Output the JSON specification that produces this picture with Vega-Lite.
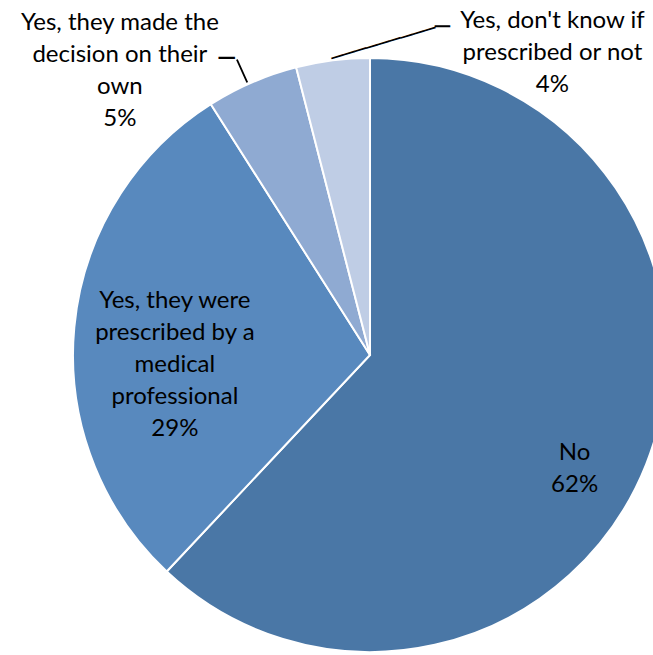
{
  "$schema": "https://vega.github.io/schema/vega-lite/v6.json",
  "width": 740,
  "height": 710,
  "padding": 0,
  "autosize": {"type": "none"},
  "background": "white",
  "config": {"view": {"stroke": null}},
  "data": {
    "values": [
      {"idx": 1, "category": "No", "value": 62, "label": "No\n62%"},
      {"idx": 2, "category": "Yes, they were prescribed by a medical professional", "value": 29, "label": "Yes, they were\nprescribed by a\nmedical\nprofessional\n29%"},
      {"idx": 3, "category": "Yes, they made the decision on their own", "value": 5, "label": "Yes, they made the\ndecision on their\nown\n5%"},
      {"idx": 4, "category": "Yes, don't know if prescribed or not", "value": 4, "label": "Yes, don't know if\nprescribed or not\n4%"}
    ]
  },
  "encoding": {
    "theta": {"field": "value", "type": "quantitative", "stack": true},
    "order": {"field": "idx", "type": "quantitative"}
  },
  "layer": [
    {
      "mark": {"type": "arc", "outerRadius": 297, "stroke": "white", "strokeWidth": 2},
      "encoding": {
        "color": {
          "field": "category",
          "type": "nominal",
          "sort": null,
          "scale": {
            "domain": ["No", "Yes, they were prescribed by a medical professional", "Yes, they made the decision on their own", "Yes, don't know if prescribed or not"],
            "range": ["#4A77A6", "#5889BE", "#8FAAD2", "#BFCDE5"]
          },
          "legend": null
        }
      }
    },
    {
      "transform": [{"filter": "datum.idx == 3"}],
      "mark": {"type": "arc", "theta": 5.86, "theta2": 5.86, "radius": 324, "radius2": 299, "fill": null, "stroke": "black", "strokeWidth": 1.8},
      "encoding": {"theta": null, "order": null}
    },
    {
      "mark": {"type": "text", "radius": 300, "dx": -24, "dy": -21, "font": "DejaVu Sans", "fontSize": 26.5, "color": "black", "align": "center", "baseline": "middle"},
      "encoding": {"text": {"condition": {"test": "datum.idx == 3", "value": "─"}, "value": ""}}
    },
    {
      "mark": {"type": "text", "radius": 300, "dx": 53, "dy": 1.5, "angle": -16.5, "font": "DejaVu Sans", "fontSize": 20, "color": "black", "align": "center", "baseline": "middle"},
      "encoding": {"text": {"condition": {"test": "datum.idx == 4", "value": "─────────"}, "value": ""}}
    },
    {
      "mark": {"type": "text", "radius": 300, "dx": 110, "dy": -30, "font": "DejaVu Sans", "fontSize": 25, "color": "black", "align": "center", "baseline": "middle"},
      "encoding": {"text": {"condition": {"test": "datum.idx == 4", "value": "─"}, "value": ""}}
    },
    {
      "mark": {"type": "text", "radius": 234, "dx": -13, "dy": 12, "font": "Lato", "fontSize": 24, "lineHeight": 32, "color": "black", "align": "center", "baseline": "middle", "lineBreak": "\n"},
      "encoding": {"text": {"condition": {"test": "datum.idx == 1", "field": "label"}, "value": ""}}
    },
    {
      "mark": {"type": "text", "radius": 196, "dx": 0, "dy": -36, "font": "Lato", "fontSize": 24, "lineHeight": 32, "color": "black", "align": "center", "baseline": "middle", "lineBreak": "\n"},
      "encoding": {"text": {"condition": {"test": "datum.idx == 2", "field": "label"}, "value": ""}}
    },
    {
      "mark": {"type": "text", "radius": 300, "dx": -131, "dy": -57, "font": "Lato", "fontSize": 24, "lineHeight": 32, "color": "black", "align": "center", "baseline": "middle", "lineBreak": "\n"},
      "encoding": {"text": {"condition": {"test": "datum.idx == 3", "field": "label"}, "value": ""}}
    },
    {
      "mark": {"type": "text", "radius": 300, "dx": 220, "dy": -36, "font": "Lato", "fontSize": 24, "lineHeight": 32, "color": "black", "align": "center", "baseline": "middle", "lineBreak": "\n"},
      "encoding": {"text": {"condition": {"test": "datum.idx == 4", "field": "label"}, "value": ""}}
    }
  ]
}
